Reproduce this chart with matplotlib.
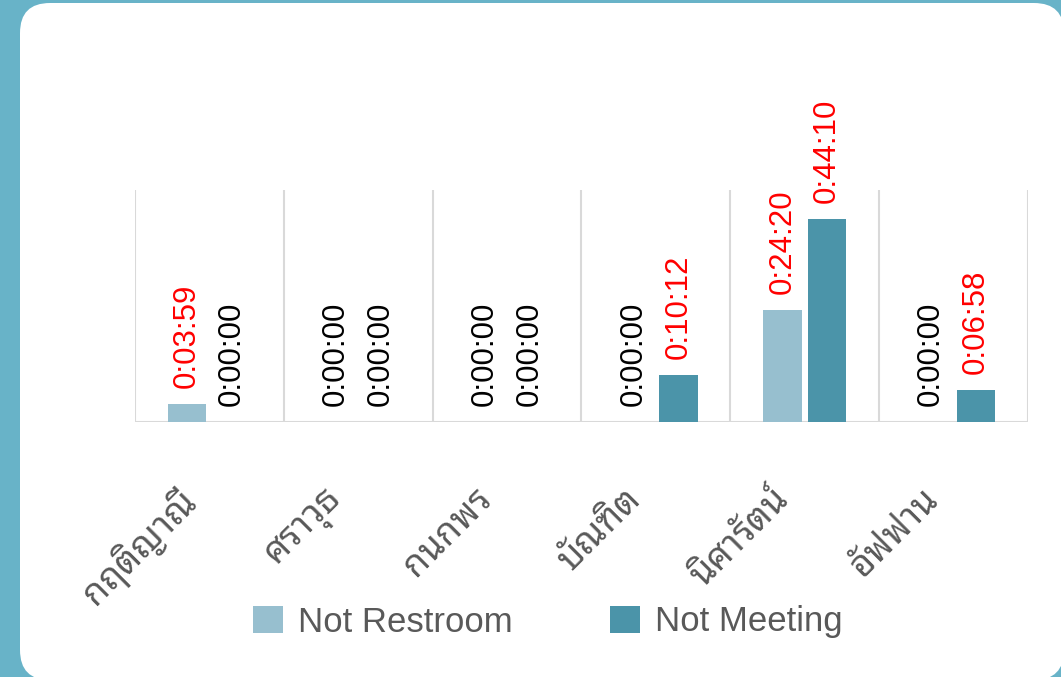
import matplotlib
matplotlib.use("Agg")
import matplotlib.pyplot as plt
from matplotlib.patches import FancyBboxPatch, Patch
from matplotlib.transforms import ScaledTranslation
import numpy as np

categories = ["กฤติญาณี", "ศราวุธ", "กนกพร", "บัณฑิต", "นิศารัตน์", "อัฟฟาน"]
series_names = ["Not Restroom", "Not Meeting"]
not_restroom = ["0:03:59", "0:00:00", "0:00:00", "0:00:00", "0:24:20", "0:00:00"]
not_meeting = ["0:00:00", "0:00:00", "0:00:00", "0:10:12", "0:44:10", "0:06:58"]
series_colors = ["#97BFCF", "#4B94A9"]

def to_sec(s):
    h, m, x = s.split(":")
    return int(h) * 3600 + int(m) * 60 + int(x)

W, H = 1061, 677
fig = plt.figure(figsize=(W / 100, H / 100), dpi=100)
fig.patch.set_facecolor("#68B3C8")

panel = FancyBboxPatch((0.20, -0.03), 10.44, 6.77,
                       boxstyle="round,pad=0,rounding_size=0.30",
                       transform=fig.dpi_scale_trans, facecolor="white",
                       edgecolor="none", zorder=-5)
fig.add_artist(panel)

ax = fig.add_axes([135 / W, 1 - 422 / H, (1028 - 135) / W, (422 - 190) / H])
ax.set_facecolor("none")
ax.set_zorder(1)

x = np.arange(len(categories))
width = 0.259
offset = 0.151
lab_font = ["Liberation Sans", "DejaVu Sans"]
for i, (vals, col) in enumerate(zip([not_restroom, not_meeting], series_colors)):
    secs = [to_sec(v) for v in vals]
    xs = x + (-offset if i == 0 else offset)
    ax.bar(xs, secs, width=width, color=col, zorder=2)
    for xi, s, v in zip(xs, secs, vals):
        ax.annotate(v, (xi, s), xytext=(0, 11.5), textcoords="offset points",
                    rotation=90, ha="center", va="bottom", fontsize=22.5,
                    family=lab_font, color="#FF0000" if s > 0 else "#000000",
                    zorder=3, annotation_clip=False)

ax.set_xlim(-0.5, len(categories) - 0.5)
ax.set_ylim(0, 3030)
for b in np.arange(-0.5, len(categories), 1.0):
    ax.axvline(b, color="#D9D9D9", lw=1.5, zorder=1)
ax.axhline(0, color="#D9D9D9", lw=1.5, zorder=1)
for sp in ax.spines.values():
    sp.set_visible(False)
ax.set_yticks([])
ax.set_xticks(x)
ax.set_xticklabels(categories, rotation=45, ha="right", va="top",
                   rotation_mode="anchor", fontsize=26,
                   family=["Noto Sans Thai Looped", "DejaVu Sans"], color="#595959")
ax.tick_params(axis="x", length=0, pad=43)
shift = ScaledTranslation(-0.33, 0, fig.dpi_scale_trans)
for lbl in ax.get_xticklabels():
    lbl.set_transform(lbl.get_transform() + shift)

handles = [Patch(facecolor=c, edgecolor="none") for c in series_colors]
leg = fig.legend(handles, series_names, loc="center", bbox_to_anchor=(548 / W, 1 - 622 / H),
                 ncol=2, frameon=False, handlelength=0.86, handleheight=0.86,
                 handletextpad=0.43, columnspacing=2.8,
                 prop={"family": lab_font, "size": 25})
for t in leg.get_texts():
    t.set_color("#595959")

fig.savefig("out.png", dpi=100, facecolor=fig.get_facecolor())
